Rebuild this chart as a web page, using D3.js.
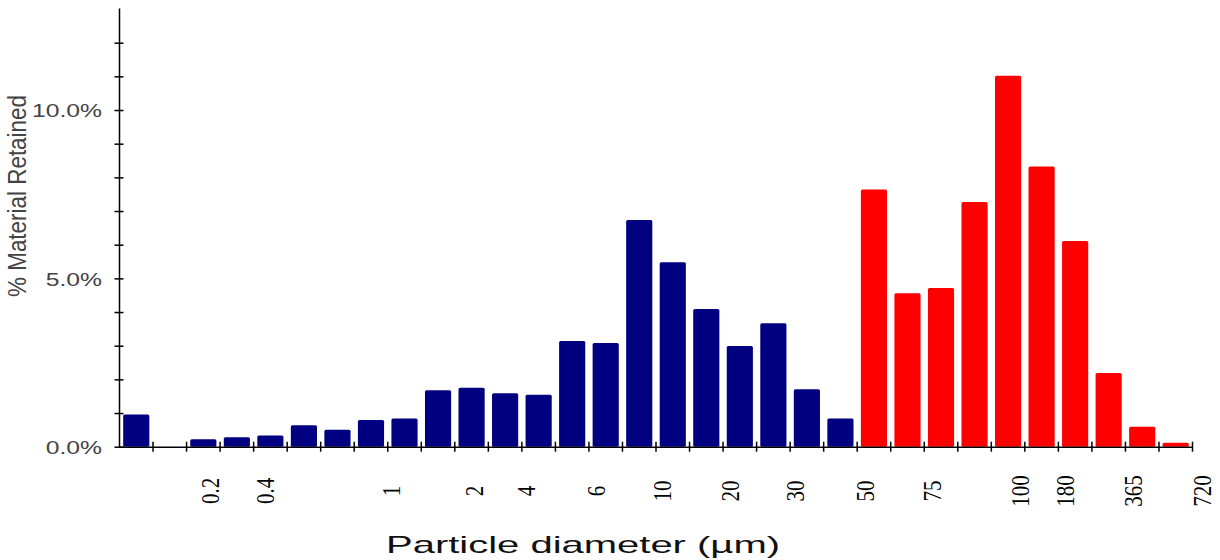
<!DOCTYPE html>
<html>
<head>
<meta charset="utf-8">
<script src="https://cdn.jsdelivr.net/npm/d3@7"></script>
<style>
  body { margin: 0; background: #fff; }
  svg { display: block; }
</style>
</head>
<body>
<div class="container"></div>
<script>
const WIDTH = 1220;
const HEIGHT = 560;

// % retained per size bin, fine (blue) then coarse (red)
var fineValues = [0.96, 0, 0.22, 0.28, 0.33, 0.64, 0.50, 0.79, 0.84, 1.68, 1.75,
                  1.59, 1.54, 3.14, 3.08, 6.73, 5.48, 4.09, 2.99, 3.67, 1.71, 0.84];
var coarseValues = [7.64, 4.56, 4.71, 7.27, 11.02, 8.32, 6.11, 2.19, 0.59, 0.12];

// size labels under the axis, and where they sit in bin units
var sizeLabels = ["0.2", "0.4", "1", "2", "4", "6", "10", "20", "30", "50", "75", "100", "180", "365", "720"];
var labelBins = [2.71, 4.35, 8.13, 10.59, 12.15, 14.24, 16.2, 18.22, 20.17, 22.25, 24.26, 26.89, 28.21, 30.24, 32.31];

var yTicks = [0, 1, 2, 3, 4, 5, 6, 7, 8, 9, 10, 11, 12];
var yLabelled = [0, 5, 10];

var drawChart = function(){
    var bars = fineValues.map(function(v){ return {v: v, c: "#000080"}; })
        .concat(coarseValues.map(function(v){ return {v: v, c: "#ff0000"}; }));
    var nBins = bars.length;

    var x0 = 119, x1 = 1192, y0 = 446.7, y1 = 8;

    var band = d3.scaleBand().domain(d3.range(nBins)).range([x0, x1])
        .paddingInner(0.22).paddingOuter(0.11);
    var xb = d3.scaleLinear().domain([0, nBins]).range([x0, x1]);
    var y = d3.scaleLinear().domain([0, 13.03]).range([y0, y1]);

    var svg = d3.select(".container").append("svg")
        .attr("width", WIDTH).attr("height", HEIGHT);

    svg.selectAll("rect.bar")
        .data(bars)
        .enter().append("rect")
        .attr("class", "bar")
        .attr("x", function(d, i){ return band(i) + 0.5; })
        .attr("y", function(d){ return y(d.v); })
        .attr("width", band.bandwidth())
        .attr("height", function(d){ return y0 - y(d.v); })
        .attr("rx", 1.5)
        .attr("fill", function(d){ return d.c; });

    // x axis: a tick on every bin edge, crossing the line
    var gx = svg.append("g")
        .attr("transform", "translate(0," + y0 + ")")
        .call(d3.axisBottom(xb).tickValues(d3.range(1, nBins + 1)).tickFormat("").tickSizeOuter(0));
    gx.selectAll(".tick line").attr("y1", -5).attr("y2", 5).attr("stroke", "#000").attr("stroke-width", 1.5);
    gx.select(".domain").attr("stroke", "#000").attr("stroke-width", 1.5);

    // y axis
    var gy = svg.append("g")
        .attr("transform", "translate(" + x0 + ",0)")
        .call(d3.axisLeft(y).tickValues(yTicks).tickSizeOuter(0)
            .tickFormat(function(d){ return yLabelled.indexOf(d) >= 0 ? d.toFixed(1) + "%" : ""; }));
    gy.selectAll(".tick line").attr("x1", -4.5).attr("x2", 4.5).attr("stroke", "#000").attr("stroke-width", 1.5);
    gy.select(".domain").attr("stroke", "#000").attr("stroke-width", 1.5);
    gy.selectAll(".tick text")
        .attr("x", -17)
        .attr("dy", "0.35em")
        .attr("fill", "#444")
        .style("font-family", "Arial, 'Liberation Sans', sans-serif")
        .style("font-size", "19px")
        .each(function(){
            var t = d3.select(this);
            if (t.text()) t.attr("textLength", this.getComputedTextLength() * 1.3).attr("lengthAdjust", "spacingAndGlyphs");
        });

    // size labels, rotated, serif (glyphs a little wide, as in the source image)
    svg.selectAll("text.size")
        .data(sizeLabels)
        .enter().append("text")
        .attr("class", "size")
        .attr("transform", function(d, i){ return "translate(" + xb(labelBins[i]) + ",491) rotate(-90) scale(1,1.2)"; })
        .attr("text-anchor", "middle")
        .attr("dominant-baseline", "central")
        .style("font-family", "'Times New Roman', 'Liberation Serif', serif")
        .style("font-size", "21px")
        .attr("fill", "#000")
        .text(function(d){ return d; });

    // axis titles
    svg.append("text")
        .attr("x", 583).attr("y", 553)
        .attr("text-anchor", "middle")
        .attr("textLength", 394).attr("lengthAdjust", "spacingAndGlyphs")
        .style("font-family", "Arial, 'Liberation Sans', sans-serif")
        .style("font-size", "24px")
        .attr("fill", "#111")
        .text("Particle diameter (µm)");

    svg.append("text")
        .attr("transform", "translate(26,196) rotate(-90) scale(1,1.2)")
        .attr("text-anchor", "middle")
        .attr("textLength", 202).attr("lengthAdjust", "spacingAndGlyphs")
        .style("font-family", "Arial, 'Liberation Sans', sans-serif")
        .style("font-size", "21px")
        .attr("fill", "#444")
        .text("% Material Retained");
};

drawChart();
</script>
</body>
</html>
